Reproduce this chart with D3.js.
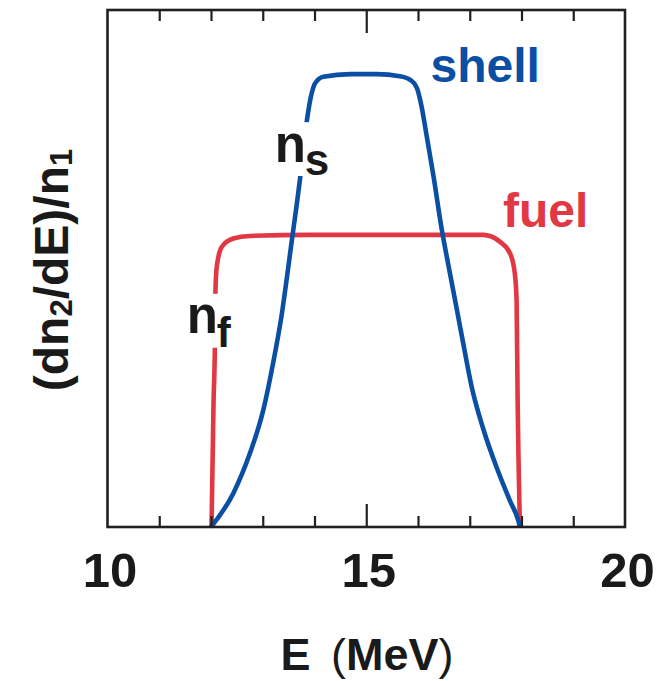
<!DOCTYPE html>
<html>
<head>
<meta charset="utf-8">
<script src="https://cdn.jsdelivr.net/npm/d3@7"></script>
<style>
  html, body { margin: 0; padding: 0; background: #fff; }
  svg { display: block; }
  text { font-family: "Liberation Sans", Arial, Helvetica, sans-serif; font-weight: bold; }
</style>
</head>
<body>
<script>
// ---- data ----
const xDomain = [10, 20];
const xTickLabels = [10, 15, 20];
const xMinorTicks = [11, 12, 13, 14, 16, 17, 18, 19];
const xMajorTicks = [15];

const shellE = [12.00, 12.43, 12.75, 13.01, 13.20, 13.37, 13.47, 13.56, 13.66, 13.72, 13.85, 13.93, 14.01, 14.17, 14.69, 15.20, 15.65, 15.85, 15.98, 16.07, 16.17, 16.30, 16.46, 16.59, 16.72, 16.85, 17.04, 17.26, 17.52, 17.78, 17.94, 17.97];
const shellN = [0.000, 0.065, 0.142, 0.226, 0.317, 0.413, 0.485, 0.553, 0.626, 0.673, 0.784, 0.832, 0.858, 0.871, 0.876, 0.876, 0.872, 0.865, 0.849, 0.813, 0.755, 0.678, 0.575, 0.505, 0.437, 0.368, 0.270, 0.190, 0.115, 0.050, 0.012, 0.000];

const fuelE = [12.01, 12.05, 12.075, 12.085, 12.11, 12.21, 12.43, 12.75, 13.91, 15.65, 17.26, 17.58, 17.78, 17.87, 17.905, 17.925, 17.97];
const fuelN = [0.000, 0.246, 0.349, 0.452, 0.503, 0.542, 0.558, 0.563, 0.565, 0.565, 0.565, 0.552, 0.529, 0.491, 0.439, 0.246, 0.000];

const seriesNames = ["shell", "fuel"];
const seriesColors = ["#0a4fa3", "#e23843"];

// ---- layout ----
const W = 663, H = 681;
const plot = { left: 107.5, right: 625, top: 10, bottom: 527 };
const ink = "#231f20";

const svg = d3.select("body").append("svg").attr("width", W).attr("height", H);

const x = d3.scaleLinear().domain(xDomain).range([plot.left, plot.right]);
const y = d3.scaleLinear().domain([0, 1]).range([plot.bottom, plot.top]);

const line = d3.line().x(d => x(d[0])).y(d => y(d[1])).curve(d3.curveMonotoneX);

const shell = shellE.map((e, i) => [e, shellN[i]]);
const fuel = fuelE.map((e, i) => [e, fuelN[i]]);

// curves
svg.append("path").datum(fuel).attr("d", line)
  .attr("fill", "none").attr("stroke", seriesColors[1]).attr("stroke-width", 4.6)
  .attr("stroke-linejoin", "round");
svg.append("path").datum(shell).attr("d", line)
  .attr("fill", "none").attr("stroke", seriesColors[0]).attr("stroke-width", 4.6)
  .attr("stroke-linejoin", "round");

// ticks (inward) bottom and top
function tickAxis(gen, values, size, ty) {
  const g = svg.append("g").attr("transform", `translate(0,${ty})`)
    .call(gen(x).tickValues(values).tickSize(size).tickFormat(""));
  g.select(".domain").remove();
  g.selectAll(".tick line").attr("stroke", ink).attr("stroke-width", 2.2);
}
tickAxis(d3.axisBottom, xMinorTicks, -11, plot.bottom);
tickAxis(d3.axisBottom, xMajorTicks, -23, plot.bottom);
tickAxis(d3.axisTop, xMinorTicks, -11, plot.top);
tickAxis(d3.axisTop, xMajorTicks, -23, plot.top);

// tick labels
const lab = svg.append("g").attr("transform", `translate(0,${plot.bottom})`)
  .call(d3.axisBottom(x).tickValues(xTickLabels).tickSize(0).tickPadding(0).tickFormat(d3.format("d")));
lab.select(".domain").remove();
lab.selectAll(".tick text")
  .attr("dy", null).attr("y", 60).attr("dx", 2)
  .attr("fill", "#1a1a1a").attr("font-size", 49).attr("font-weight", "bold")
  .attr("font-family", "'Liberation Sans', Arial, sans-serif");

// frame
svg.append("rect")
  .attr("x", plot.left).attr("y", plot.top)
  .attr("width", plot.right - plot.left).attr("height", plot.bottom - plot.top)
  .attr("fill", "none").attr("stroke", ink).attr("stroke-width", 2.6);

// x title
const xt = svg.append("text").attr("x", 367).attr("y", 670)
  .attr("text-anchor", "middle").attr("font-size", 45).attr("fill", "#1a1a1a")
  .attr("word-spacing", 8);
xt.append("tspan").text("E ");
xt.append("tspan").attr("font-weight", "normal").text("(");
xt.append("tspan").text("MeV");
xt.append("tspan").attr("font-weight", "normal").text(")");

// y title
const yt = svg.append("text").attr("transform", "translate(68,270) rotate(-90)")
  .attr("text-anchor", "middle").attr("font-size", 48).attr("fill", "#1a1a1a");
yt.append("tspan").text("(dn");
yt.append("tspan").attr("font-size", 31).attr("dy", 4).text("2");
yt.append("tspan").attr("dy", -4).text("/dE)/n");
yt.append("tspan").attr("font-size", 31).attr("dy", 4).text("1");

// curve labels with knockouts
function subLabel(tx, ty, main, sub, size, subSize, subDy) {
  const knock = svg.append("rect").attr("fill", "#fff");
  const t = svg.append("text").attr("x", tx).attr("y", ty).attr("font-size", size).attr("fill", "#1a1a1a");
  t.append("tspan").text(main);
  t.append("tspan").attr("font-size", subSize).attr("dy", subDy).attr("dx", -1).text(sub);
  const bb = t.node().getBBox();
  const top = ty - 0.52 * size - 13;
  const bottom = ty + subDy + 1;
  knock.attr("x", bb.x).attr("width", bb.width).attr("y", top).attr("height", bottom - top);
}
subLabel(274.7, 161.7, "n", "s", 51, 44, 13.3);
subLabel(186.7, 333.3, "n", "f", 51, 42, 13.4);

// series labels
svg.append("text").attr("x", 430.5).attr("y", 81.7).attr("font-size", 48)
  .attr("fill", seriesColors[0]).text(seriesNames[0]);
svg.append("text").attr("x", 503).attr("y", 226.7).attr("font-size", 48)
  .attr("fill", seriesColors[1]).text(seriesNames[1]);
</script>
</body>
</html>
